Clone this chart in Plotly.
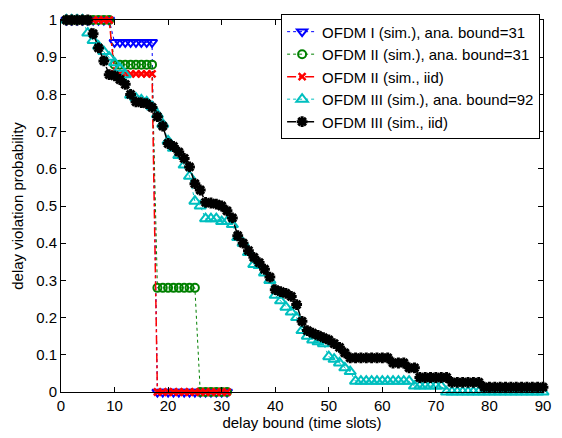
import plotly.graph_objects as go

# ---- data ----
x_short = list(range(1, 32))
x_long = list(range(1, 91))

ofdm1_ana = [1]*9 + [0.94]*8 + [0]*14
ofdm2_ana = [1]*9 + [0.88]*8 + [0.28]*8 + [0]*6
ofdm2_iid = [1]*9 + [0.855]*8 + [0]*14

ofdm3_ana = [
    1, 1, 1, 1, 0.965, 0.945, 0.93, 0.915, 0.90, 0.885,
    0.87, 0.853, 0.798, 0.79, 0.785, 0.78, 0.767, 0.746, 0.72, 0.675,
    0.655, 0.636, 0.61, 0.58, 0.513, 0.50, 0.466, 0.466, 0.466, 0.458,
    0.458, 0.45, 0.415, 0.40, 0.375, 0.343, 0.34, 0.32, 0.30, 0.26,
    0.245, 0.228, 0.215, 0.20, 0.165, 0.15, 0.14, 0.135, 0.13, 0.095,
    0.088, 0.078, 0.065, 0.055, 0.029, 0.029, 0.029, 0.029, 0.029, 0.029,
    0.029, 0.029, 0.029, 0.029, 0.029, 0.016, 0.016, 0.016, 0.016, 0.016,
    0.016, 0, 0, 0, 0, 0, 0, 0, 0, 0,
    0, 0, 0, 0, 0, 0, 0, 0, 0, 0,
]
ofdm3_iid = [
    1, 1, 1, 1, 1, 0.963, 0.925, 0.89, 0.853, 0.85,
    0.84, 0.827, 0.80, 0.78, 0.778, 0.775, 0.765, 0.74, 0.715, 0.668,
    0.66, 0.645, 0.628, 0.605, 0.56, 0.543, 0.51, 0.508, 0.505, 0.50,
    0.487, 0.468, 0.42, 0.40, 0.38, 0.362, 0.348, 0.33, 0.309, 0.275,
    0.27, 0.265, 0.257, 0.235, 0.19, 0.165, 0.158, 0.152, 0.146, 0.14,
    0.13, 0.12, 0.105, 0.092, 0.092, 0.092, 0.092, 0.092, 0.092, 0.092,
    0.092, 0.078, 0.078, 0.078, 0.065, 0.065, 0.039, 0.039, 0.039, 0.039,
    0.039, 0.039, 0.026, 0.026, 0.026, 0.026, 0.026, 0.026, 0.013, 0.013,
    0.013, 0.013, 0.013, 0.013, 0.013, 0.013, 0.013, 0.013, 0.013, 0.013,
]

names = [
    "OFDM I (sim.), ana. bound=31",
    "OFDM II (sim.), ana. bound=31",
    "OFDM II (sim., iid)",
    "OFDM III (sim.), ana. bound=92",
    "OFDM III (sim., iid)",
]

FONT = "Liberation Sans, Arial, Helvetica, sans-serif"

fig = go.Figure()
fig.add_trace(go.Scatter(
    x=x_short, y=ofdm1_ana, name=names[0], mode="lines+markers",
    line=dict(color="#0000FF", width=1, dash="dot"),
    marker=dict(symbol="triangle-down-open", size=9, color="#0000FF", line=dict(width=2)),
    cliponaxis=False))
fig.add_trace(go.Scatter(
    x=x_short, y=ofdm2_ana, name=names[1], mode="lines+markers",
    line=dict(color="#008000", width=1, dash="dot"),
    marker=dict(symbol="circle-open", size=8, color="#008000", line=dict(width=2)),
    cliponaxis=False))
fig.add_trace(go.Scatter(
    x=x_short, y=ofdm2_iid, name=names[2], mode="lines+markers",
    line=dict(color="#FF0000", width=1.5, dash="dashdot"),
    marker=dict(symbol="x-thin-open", size=7, color="#FF0000", line=dict(width=2.5, color="#FF0000")),
    cliponaxis=False))
fig.add_trace(go.Scatter(
    x=x_long, y=ofdm3_ana, name=names[3], mode="lines+markers",
    line=dict(color="#00BFBF", width=1, dash="dot"),
    marker=dict(symbol="triangle-up-open", size=10, color="#00BFBF", line=dict(width=2)),
    cliponaxis=False))
fig.add_trace(go.Scatter(
    x=x_long, y=ofdm3_iid, name=names[4], mode="lines+markers",
    line=dict(color="#000000", width=1.5, dash="dashdot"),
    marker=dict(symbol="asterisk-open", size=9, color="#000000", line=dict(width=3, color="#000000")),
    cliponaxis=False))

axis_common = dict(
    showline=True, linecolor="black", linewidth=1, mirror="ticks",
    ticks="inside", ticklen=5, tickcolor="black", tickwidth=1,
    showgrid=False, zeroline=False,
    tickfont=dict(family=FONT, size=15, color="black"),
)

fig.update_layout(
    width=562, height=438,
    margin=dict(l=61, r=16, t=11, b=45),
    paper_bgcolor="white", plot_bgcolor="white",
    font=dict(family=FONT, size=15, color="black"),
    showlegend=True,
    legend=dict(
        x=0.994, y=1.015, xanchor="right", yanchor="top",
        bgcolor="white", bordercolor="black", borderwidth=1,
        font=dict(family=FONT, size=15, color="black"),
        tracegroupgap=0, itemwidth=30,
    ),
    xaxis=dict(range=[0, 90], tick0=0, dtick=10,
               title=dict(text="delay bound (time slots)", standoff=2,
                          font=dict(family=FONT, size=15)),
               **axis_common),
    yaxis=dict(range=[0, 1], tick0=0, dtick=0.1, tickformat="~g",
               title=dict(text="delay violation probability", standoff=8,
                          font=dict(family=FONT, size=15)),
               **axis_common),
)

fig.write_html("out.html")
